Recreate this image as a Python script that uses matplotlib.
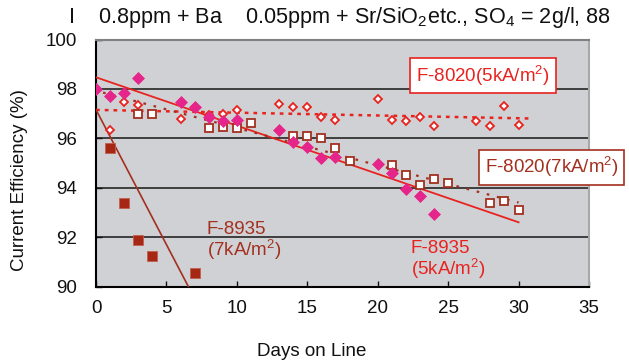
import matplotlib
matplotlib.use("Agg")
import matplotlib.pyplot as plt

plt.rcParams['font.family'] = ['Liberation Sans', 'DejaVu Sans']
plt.rcParams['mathtext.fontset'] = 'custom'
plt.rcParams['mathtext.rm'] = 'Liberation Sans'
plt.rcParams['mathtext.it'] = 'Liberation Sans:italic'
plt.rcParams['mathtext.bf'] = 'Liberation Sans:bold'

# F-8935 (5kA/m2) - filled magenta diamonds
dias_8935_5 = [0, 1, 2, 3, 6, 7, 8, 9, 10, 13, 14, 15, 16, 17, 20, 21, 22, 23, 24]
ef_8935_5 = [98.0, 97.7, 97.85, 98.45, 97.45, 97.25, 96.85, 96.7, 96.75, 96.35,
             95.85, 95.65, 95.2, 95.25, 94.95, 94.6, 93.95, 93.65, 92.95]

# F-8020 (5kA/m2) - open diamonds
dias_8020_5 = [1, 2, 3, 6, 7, 8, 9, 10, 13, 14, 15, 16, 17, 20, 21, 22, 23, 24, 27, 28, 29, 30]
ef_8020_5 = [96.35, 97.45, 97.35, 96.8, 97.25, 96.95, 97.0, 97.15, 97.4, 97.25,
             97.25, 96.85, 96.75, 97.6, 96.75, 96.7, 96.85, 96.5, 96.7, 96.5, 97.3, 96.55]

# F-8020 (7kA/m2) - open squares
dias_8020_7 = [3, 4, 8, 9, 10, 11, 14, 15, 16, 17, 18, 21, 22, 23, 24, 25, 28, 29, 30]
ef_8020_7 = [97.0, 97.0, 96.4, 96.45, 96.4, 96.6, 96.1, 96.1, 96.0, 95.6, 95.1,
             94.9, 94.5, 94.1, 94.35, 94.2, 93.4, 93.45, 93.1]

# F-8935 (7kA/m2) - filled dark red squares
dias_8935_7 = [1, 2, 3, 4, 7]
ef_8935_7 = [95.6, 93.4, 91.9, 91.25, 90.55]

# lineas de tendencia (inicio, fin)
tend_8935_5 = ([0, 30], [98.47, 92.6])
tend_8020_5 = ([0, 31], [97.15, 96.8])
tend_8020_7 = ([0.5, 30], [97.85, 93.4])
tend_8935_7 = ([0, 6.6], [97.16, 89.95])

rojo = '#e8231f'
rojo_osc = '#a3301f'
magenta = '#e5258a'

fig = plt.figure(figsize=(6.29, 3.62), dpi=100)
ax = fig.add_axes([96/629, 75.5/362, 493/629, 247/362])
ax.set_facecolor('#d0d1d5')

for y in [92, 94, 96, 98]:
    ax.axhline(y, color='#333333', lw=1.3, zorder=1)

ax.plot(*tend_8935_5, color=rojo, lw=1.3, zorder=3)
ax.plot(*tend_8020_5, color=rojo, lw=1.8, ls=(0, (1.5, 2)), zorder=3)
ax.plot(*tend_8020_7, color=rojo_osc, lw=1.6, ls=(0, (1.2, 3.5)), zorder=3)
ax.plot(*tend_8935_7, color=rojo_osc, lw=1.2, zorder=3)

ax.plot(dias_8020_5, ef_8020_5, 'D', ms=4.3, mfc='white', mec=rojo, mew=1.3, ls='none', zorder=4)
ax.plot(dias_8020_7, ef_8020_7, 's', ms=6.3, mfc='white', mec=rojo_osc, mew=1.3, ls='none', zorder=4)
ax.plot(dias_8935_5, ef_8935_5, 'D', ms=6.3, mfc=magenta, mec=magenta, mew=0.5, ls='none', zorder=5)
ax.plot(dias_8935_7, ef_8935_7, 's', ms=6.5, mfc='#a52714', mec='#c06050', mew=0.6, ls='none', zorder=4)

ax.set_xlim(0, 35)
ax.set_ylim(90, 100)
ax.set_xticks(range(0, 36, 5))
ax.set_yticks(range(90, 101, 2))
ax.tick_params(axis='both', direction='in', length=4, width=1, labelsize=13.5, colors='#111111')
ax.tick_params(axis='x', pad=10)
ax.tick_params(axis='y', pad=14)

ax.spines['left'].set_linewidth(1.5)
ax.spines['bottom'].set_linewidth(1.5)
ax.spines['top'].set_color('#808080')
ax.spines['top'].set_linewidth(1.5)
ax.spines['right'].set_color('#a8a8a8')
ax.spines['right'].set_linewidth(1.5)

# etiquetas de las series
ax.text(0.785, 0.854, 'F-8020(5kA/m$^2$)', transform=ax.transAxes, ha='center', va='center',
        fontsize=13.5, color=rojo, zorder=6,
        bbox=dict(boxstyle='square,pad=0.3', fc='white', ec=rojo, lw=1.2))
ax.text(0.924, 0.482, 'F-8020(7kA/m$^2$)', transform=ax.transAxes, ha='center', va='center',
        fontsize=13.5, color=rojo_osc, zorder=6,
        bbox=dict(boxstyle='square,pad=0.3', fc='white', ec=rojo_osc, lw=1.2))
ax.text(0.225, 0.181, 'F-8935\n(7kA/m$^2$)', transform=ax.transAxes, ha='left', va='center',
        fontsize=13.5, color=rojo_osc, linespacing=1.0, zorder=6)
ax.text(0.638, 0.107, 'F-8935\n(5kA/m$^2$)', transform=ax.transAxes, ha='left', va='center',
        fontsize=13.5, color=rojo, linespacing=1.0, zorder=6)

fig.text(68/629, 1 - 18/362, r'I    0.8ppm + Ba    0.05ppm + Sr/SiO$_2$etc., SO$_4$ = 2g/l, 88',
         ha='left', va='center', fontsize=15.6, color='#111111')
fig.text(312/629, 1 - 351/362, 'Days on Line', ha='center', va='center', fontsize=13.5, color='#111111')
fig.text(20/629, 1 - 180/362, 'Current Efficiency (%)', rotation=90, ha='center', va='center',
         fontsize=13.5, color='#111111')

fig.savefig('out.png', dpi=100)
